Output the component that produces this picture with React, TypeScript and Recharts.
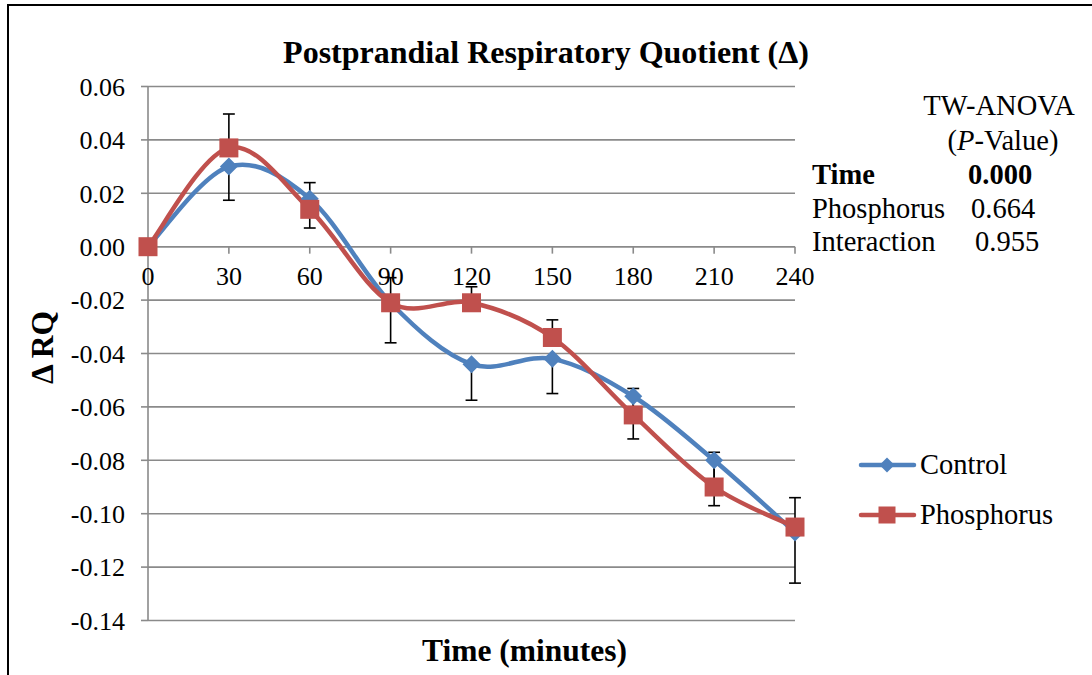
import React from "react";
import {
  LineChart,
  Line,
  XAxis,
  YAxis,
  CartesianGrid,
  ReferenceLine,
  Legend,
} from "recharts";

// minutes after the meal
const times = [0, 30, 60, 90, 120, 150, 180, 210, 240];
// delta RQ, means
const control = [0, 0.03, 0.018, -0.021, -0.044, -0.042, -0.056, -0.08, -0.107];
const phosphorus = [0, 0.037, 0.014, -0.021, -0.021, -0.034, -0.063, -0.09, -0.105];
// SEM (control drawn downward, phosphorus drawn upward)
const controlSem = [0, 0.0126, 0.011, 0.015, 0.0135, 0.013, 0.016, 0.017, 0.019];
const phosphorusSem = [0, 0.0127, 0.01, 0.0094, 0.006, 0.0066, 0.0099, 0.013, 0.011];

const seriesNames = ["Control", "Phosphorus"];
const yTicks = [0.06, 0.04, 0.02, 0, -0.02, -0.04, -0.06, -0.08, -0.1, -0.12, -0.14];

const anovaLabels = ["Time", "Phosphorus", "Interaction"];
const anovaValues = ["0.000", "0.664", "0.955"];

const BLUE = "#4f81bd";
const RED = "#c0504d";
const GRID = "#8a8a8a";
const FONT = '"Liberation Serif", "Times New Roman", serif';
const CAP = 2.2; // half cap width in minutes

const data = times.map((t, i) => ({
  time: t,
  control: control[i],
  phosphorus: phosphorus[i],
}));

// one-sided error bars: control below the mean, phosphorus above it
const errorBars = times.flatMap((t, i) => [
  { t, from: control[i], to: control[i] - controlSem[i] },
  { t, from: phosphorus[i], to: phosphorus[i] + phosphorusSem[i] },
]).filter((e) => e.from !== e.to);

// Excel-like smoothed line (Catmull-Rom as cubic beziers)
function excelSmooth(context: any) {
  let pts: number[][] = [];
  return {
    areaStart() {},
    areaEnd() {},
    lineStart() {
      pts = [];
    },
    point(x: number, y: number) {
      pts.push([+x, +y]);
    },
    lineEnd() {
      const n = pts.length;
      if (!n) return;
      context.moveTo(pts[0][0], pts[0][1]);
      for (let i = 0; i < n - 1; i++) {
        const p0 = pts[Math.max(i - 1, 0)];
        const p1 = pts[i];
        const p2 = pts[i + 1];
        const p3 = pts[Math.min(i + 2, n - 1)];
        context.bezierCurveTo(
          p1[0] + (p2[0] - p0[0]) / 6,
          p1[1] + (p2[1] - p0[1]) / 6,
          p2[0] - (p3[0] - p1[0]) / 6,
          p2[1] - (p3[1] - p1[1]) / 6,
          p2[0],
          p2[1]
        );
      }
    },
  };
}

const diamond = (cx: number, cy: number, s: number) =>
  `M${cx},${cy - s}L${cx + s},${cy}L${cx},${cy + s}L${cx - s},${cy}Z`;

function LegendContent(props: any) {
  const items = (props.payload || []).filter((it: any) => seriesNames.includes(it.value));
  return (
    <div style={{ fontFamily: FONT, fontSize: 28.5, color: "#000" }}>
      {items.map((it: any) => (
        <div key={it.value} style={{ display: "flex", alignItems: "center", height: 50 }}>
          <svg width={60} height={20} style={{ marginRight: 2 }}>
            <line x1={3} y1={10} x2={56} y2={10} stroke={it.color} strokeWidth={4.5} strokeLinecap="round" />
            {it.value === "Control" ? (
              <path d={diamond(29, 10, 7.5)} fill={it.color} />
            ) : (
              <rect x={20.5} y={1.5} width={17} height={17} fill={it.color} />
            )}
          </svg>
          <span>{it.value}</span>
        </div>
      ))}
    </div>
  );
}

export default function App() {
  const textStyle = { fontFamily: FONT, fontSize: 28.5, color: "#000", whiteSpace: "nowrap" as const };
  return (
    <div
      style={{
        position: "absolute",
        left: 0,
        top: 0,
        width: 1092,
        height: 675,
        background: "#fff",
        overflow: "hidden",
        fontFamily: FONT,
      }}
    >
      <div
        style={{
          position: "absolute",
          left: 7,
          top: 4,
          width: 1100,
          height: 700,
          borderTop: "2px solid #000",
          borderLeft: "2px solid #000",
        }}
      />
      <div
        style={{
          position: "absolute",
          left: 0,
          width: 1092,
          top: 32,
          textAlign: "center",
          fontSize: 32,
          fontWeight: "bold",
          lineHeight: "40px",
        }}
      >
        Postprandial Respiratory Quotient (Δ)
      </div>

      <LineChart
        width={1092}
        height={675}
        data={data}
        margin={{ top: 86.5, right: 297, bottom: 0, left: 8 }}
        style={{ position: "absolute", left: 0, top: 0 }}
      >
        <CartesianGrid horizontal vertical={false} stroke={GRID} strokeWidth={1.6} />
        <XAxis
          dataKey="time"
          type="number"
          domain={[0, 240]}
          ticks={times}
          tick={false}
          axisLine={false}
          tickLine={false}
          height={54.5}
          label={{
            value: "Time (minutes)",
            position: "center",
            dx: 53,
            dy: 2,
            style: { fontFamily: FONT, fontSize: 31.5, fontWeight: "bold", fill: "#000" },
          }}
        />
        <YAxis
          domain={[-0.14, 0.06]}
          ticks={yTicks}
          interval={0}
          width={140}
          tickFormatter={(v: number) => v.toFixed(2)}
          tick={{ fontFamily: FONT, fontSize: 26, fill: "#000" }}
          tickSize={7}
          tickMargin={16}
          axisLine={{ stroke: GRID, strokeWidth: 1.6 }}
          tickLine={{ stroke: GRID, strokeWidth: 1.6 }}
          label={{
            value: "Δ RQ",
            angle: -90,
            position: "center",
            dx: -36,
            dy: -6,
            style: { fontFamily: FONT, fontSize: 31.5, fontWeight: "bold", fill: "#000" },
          }}
        />
        <ReferenceLine y={0} stroke={GRID} strokeWidth={1.6} />
        {times.map((t) => (
          <ReferenceLine
            key={t}
            segment={[
              { x: t, y: 0 },
              { x: t, y: -0.0026 },
            ]}
            stroke={GRID}
            strokeWidth={1.6}
            label={{
              value: String(t),
              position: "bottom",
              offset: 13,
              style: { fontFamily: FONT, fontSize: 26, fill: "#000" },
            }}
          />
        ))}
        {errorBars.map((e, i) => (
          <ReferenceLine
            key={`ev${i}`}
            segment={[
              { x: e.t, y: e.from },
              { x: e.t, y: e.to },
            ]}
            stroke="#000"
            strokeWidth={1.6}
            ifOverflow="visible"
          />
        ))}
        {errorBars.map((e, i) => (
          <ReferenceLine
            key={`ec${i}`}
            segment={[
              { x: e.t - CAP, y: e.to },
              { x: e.t + CAP, y: e.to },
            ]}
            stroke="#000"
            strokeWidth={1.6}
            ifOverflow="visible"
          />
        ))}
        <Legend
          layout="vertical"
          align="center"
          verticalAlign="middle"
          content={<LegendContent />}
          wrapperStyle={{ position: "absolute", left: 858, top: 440, width: 230 }}
        />
        <Line
          name="Control"
          dataKey="control"
          type={excelSmooth as any}
          stroke={BLUE}
          strokeWidth={4.5}
          isAnimationActive={false}
          dot={(p: any) => <path key={`c${p.index}`} d={diamond(p.cx, p.cy, 9)} fill={BLUE} />}
          activeDot={false}
        />
        <Line
          name="Phosphorus"
          dataKey="phosphorus"
          type={excelSmooth as any}
          stroke={RED}
          strokeWidth={4.5}
          isAnimationActive={false}
          dot={(p: any) => (
            <rect key={`p${p.index}`} x={p.cx - 9.5} y={p.cy - 9.5} width={19} height={19} fill={RED} />
          )}
          activeDot={false}
        />
      </LineChart>

      <div style={{ ...textStyle, position: "absolute", left: 900, width: 198, textAlign: "center", top: 89, lineHeight: "34px" }}>
        TW-ANOVA
      </div>
      <div style={{ ...textStyle, position: "absolute", left: 904, width: 198, textAlign: "center", top: 124, lineHeight: "34px" }}>
        (<i>P</i>-Value)
      </div>
      {anovaLabels.map((lab, i) => (
        <React.Fragment key={lab}>
          <div
            style={{
              ...textStyle,
              position: "absolute",
              left: 812,
              top: 158 + i * 33.5,
              lineHeight: "34px",
              fontWeight: i === 0 ? "bold" : "normal",
            }}
          >
            {lab}
          </div>
          <div
            style={{
              ...textStyle,
              position: "absolute",
              left: [968, 971, 975][i],
              top: 158 + i * 33.5,
              lineHeight: "34px",
              fontWeight: i === 0 ? "bold" : "normal",
            }}
          >
            {anovaValues[i]}
          </div>
        </React.Fragment>
      ))}
    </div>
  );
}
